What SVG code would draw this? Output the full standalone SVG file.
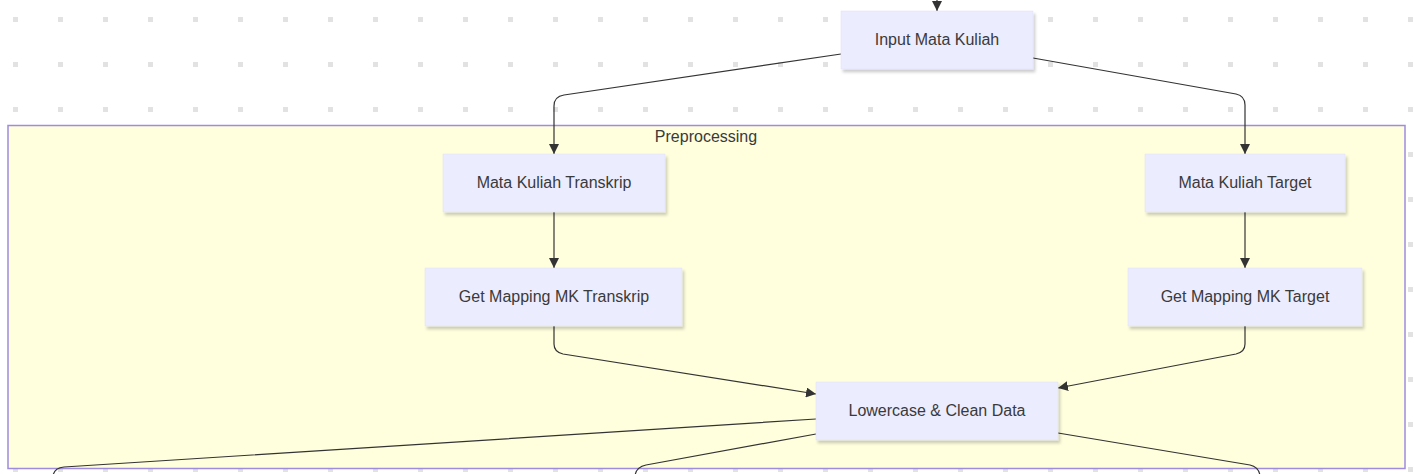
<svg xmlns="http://www.w3.org/2000/svg" width="1414" height="474" viewBox="0 0 1414 474">
<style>
.node rect{fill:#ececff;stroke:#e0e0f8;stroke-width:0.5;filter:url(#sh)}
.node text{font-family:"Liberation Sans",Arial,sans-serif;font-size:16px;fill:#3a3a3a;text-anchor:middle;dominant-baseline:central}
.edge{fill:none;stroke:#333;stroke-width:1.2}
.cl{fill:#ffffde;stroke:#9f8be0;stroke-width:1.5}
.cltext{font-family:"Liberation Sans",Arial,sans-serif;font-size:16px;fill:#3a3a3a;text-anchor:middle}
</style>
<defs>
<pattern id="dots" patternUnits="userSpaceOnUse" x="0" y="0" width="45" height="45">
<rect x="13" y="17" width="5" height="5" fill="#e2e2e2"/>
</pattern>
<filter id="sh" x="-10%" y="-20%" width="130%" height="160%">
<feDropShadow dx="2" dy="3" stdDeviation="1.5" flood-color="#000" flood-opacity="0.2"/>
</filter>
<marker id="arr" markerUnits="userSpaceOnUse" viewBox="0 0 10 10" refX="10" refY="5" markerWidth="10" markerHeight="10" orient="auto">
<path d="M0,0 L10,5 L0,10 z" fill="#333"/>
</marker>
</defs>
<rect width="1414" height="474" fill="#fff"/>
<rect width="1414" height="474" fill="url(#dots)"/>
<g id="cluster-preprocessing">
<rect class="cl" x="8" y="125.5" width="1397" height="343"/>
<text class="cltext" x="706" y="142">Preprocessing</text>
</g>
<g id="connectors">
<path class="edge" d="M937,0 L937,11" marker-end="url(#arr)"/>
<path class="edge" d="M841,54 L564,95 Q554,96.5 554,106 L554,154" marker-end="url(#arr)"/>
<path class="edge" d="M1033,58 L1236,94 Q1245,96 1245,105 L1245,154" marker-end="url(#arr)"/>
<path class="edge" d="M554,212 L554,268" marker-end="url(#arr)"/>
<path class="edge" d="M1245,212 L1245,268" marker-end="url(#arr)"/>
<path class="edge" d="M554,326 L554,344 Q554,352 563,354 L816,394" marker-end="url(#arr)"/>
<path class="edge" d="M1245,326 L1245,344 Q1245,352 1236,354 L1058,388" marker-end="url(#arr)"/>
<path class="edge" d="M816,419 L64,467 Q54,468 53,476"/>
<path class="edge" d="M816,434 L646,465 Q636,467 635,476"/>
<path class="edge" d="M1058,433 L1250,465 Q1259,467 1260,476"/>
</g>
<g id="node-input" class="node">
<rect x="841" y="11" width="192" height="58"/>
<text x="937" y="39">Input Mata Kuliah</text>
</g>
<g id="node-mk-transkrip" class="node">
<rect x="443" y="154" width="222" height="58"/>
<text x="554" y="182">Mata Kuliah Transkrip</text>
</g>
<g id="node-mk-target" class="node">
<rect x="1145" y="154" width="200" height="58"/>
<text x="1245" y="182">Mata Kuliah Target</text>
</g>
<g id="node-map-transkrip" class="node">
<rect x="425" y="268" width="257" height="58"/>
<text x="554" y="296">Get Mapping MK Transkrip</text>
</g>
<g id="node-map-target" class="node">
<rect x="1128" y="268" width="234" height="58"/>
<text x="1245" y="296">Get Mapping MK Target</text>
</g>
<g id="node-clean" class="node">
<rect x="816" y="382" width="242" height="58"/>
<text x="937" y="410">Lowercase &amp; Clean Data</text>
</g>
</svg>
